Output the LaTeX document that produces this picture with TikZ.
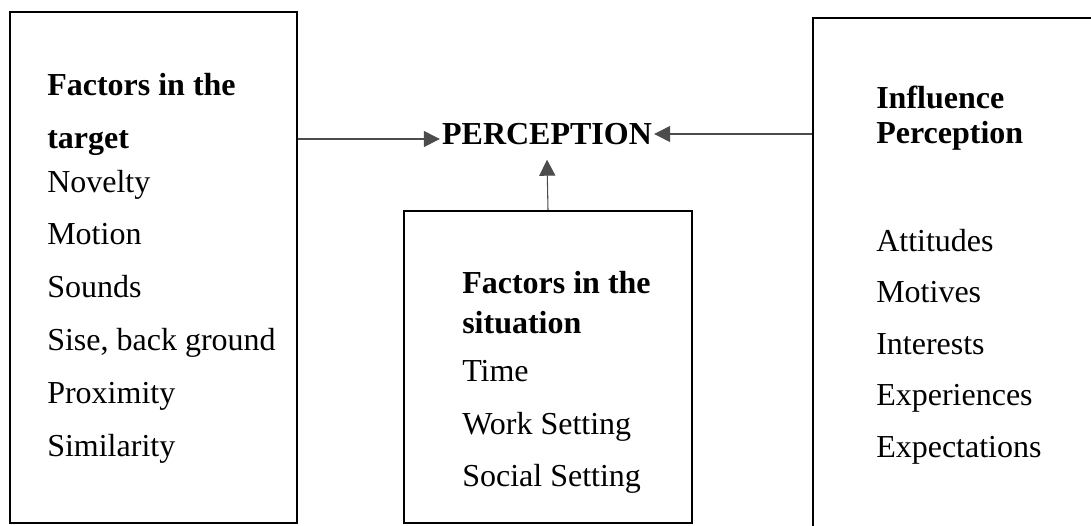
\documentclass[tikz,border=0pt]{standalone}
\usepackage{fontspec}
\setmainfont{Liberation Serif}
\usetikzlibrary{arrows.meta,fit}
\begin{document}
\begin{tikzpicture}[x=0.75pt,y=-0.75pt,
    box/.style={draw,line width=1.5pt,inner sep=0pt},
    item/.style={anchor=base west,inner sep=0pt,font=\fontsize{24}{28}\selectfont},
    head/.style={item,font=\fontsize{24}{28}\selectfont\bfseries},
    link/.style={draw=black!70,line width=0.8pt,-{Triangle[length=12pt,width=12pt]}}]

  \useasboundingbox (0,0) rectangle (1091,525);
  \clip (0,0) rectangle (1091,525);

  % the three boxes
  \node[box,fit={(10,12) (297,523)}] (target) {};
  \node[box,fit={(404,211) (692,523)}] (situation) {};
  \node[box,fit={(813,18) (1110,545)}] (perceiver) {};

  \node[font=\fontsize{24}{28}\selectfont\bfseries,inner xsep=1.5pt,inner ysep=0pt]
    (perc) at (547,134) {PERCEPTION};
  \coordinate (percin) at ([yshift=-3.75pt]perc.west);
  \coordinate (percup) at ([yshift=-11pt]perc.south);

  % texts
  \node[head] (t1) at (47,95)  {Factors in the};
  \node[head] (t2) at (47,148) {target};
  \foreach \t [count=\i] in {Novelty,Motion,Sounds,{Sise, back ground},Proximity,Similarity}
    \node[item] (ti\i) at (47,192+52.8*\i-52.8) {\t};

  \node[head] (s1) at (462,293) {Factors in the};
  \node[head] (s2) at (462,333) {situation};
  \node[item] (si1) at (462,381) {Time};
  \node[item] (si2) at (462,434) {Work Setting};
  \node[item] (si3) at (462,486) {Social Setting};

  \node[head] (p1) at (876,108) {Influence};
  \node[head] (p2) at (876,143) {Perception};
  \foreach \t [count=\i] in {Attitudes,Motives,Interests,Experiences,Expectations}
    \node[item] (pi\i) at (876,251+51.5*\i-51.5) {\t};

  % connectors
  \draw[link] (target.east |- percin) -- (percin);
  \draw[link] (perceiver.west |- perc.east) -- (perc.east);
  \draw[link] (situation.north) -- (percup);

\end{tikzpicture}
\end{document}
